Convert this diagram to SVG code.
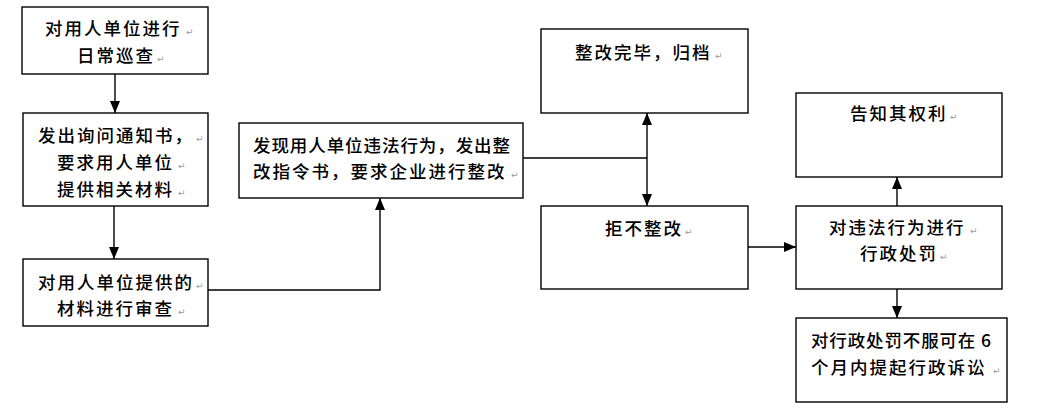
<svg xmlns="http://www.w3.org/2000/svg" width="1046" height="417" viewBox="0 0 1046 417">
<style>
.box{fill:#fff;stroke:#000;stroke-width:1.4}
.t{font-family:"Noto Sans CJK SC","Noto Sans CJK JP",sans-serif;font-size:17.5px;letter-spacing:2px;font-weight:500;fill:#000}
.pm{font-family:"DejaVu Sans",sans-serif;font-size:9px;fill:#9a9a9a}
.c{fill:none;stroke:#000;stroke-width:1.4}
</style>
<defs>
<marker id="ah" viewBox="0 0 12 10" refX="12" refY="5" markerWidth="12" markerHeight="10" markerUnits="userSpaceOnUse" orient="auto-start-reverse">
<path d="M0,0 L12,5 L0,10 Z" fill="#000"/>
</marker>
</defs>
<rect width="1046" height="417" fill="#fff"/>
<g id="connectors">
<line class="c" x1="115" y1="74" x2="115" y2="113" marker-end="url(#ah)"/>
<line class="c" x1="114" y1="206" x2="114" y2="259" marker-end="url(#ah)"/>
<polyline class="c" points="208,290 380,290 380,198" marker-end="url(#ah)"/>
<polyline class="c" points="523,158 647,158"/>
<line class="c" x1="647" y1="158" x2="647" y2="113" marker-end="url(#ah)"/>
<line class="c" x1="647" y1="158" x2="647" y2="206" marker-end="url(#ah)"/>
<line class="c" x1="748" y1="247" x2="796" y2="247" marker-end="url(#ah)"/>
<line class="c" x1="897" y1="206" x2="897" y2="177" marker-end="url(#ah)"/>
<line class="c" x1="897" y1="289" x2="897" y2="318" marker-end="url(#ah)"/>
</g>
<g id="n1">
<rect class="box" x="22" y="7" width="186" height="67"/>
<text class="t" x="45" y="35">对用人单位进行</text><text class="pm" x="186" y="35">↵</text>
<text class="t" x="77" y="62">日常巡查</text><text class="pm" x="157" y="62">↵</text>
</g>
<g id="n2">
<rect class="box" x="23" y="113" width="185" height="93"/>
<text class="t" x="38" y="142">发出询问通知书，</text><text class="pm" x="196" y="142">↵</text>
<text class="t" x="57" y="169">要求用人单位</text><text class="pm" x="178" y="169">↵</text>
<text class="t" x="57" y="196">提供相关材料</text><text class="pm" x="178" y="196">↵</text>
</g>
<g id="n3">
<rect class="box" x="23" y="259" width="185" height="67"/>
<text class="t" x="38" y="289">对用人单位提供的</text><text class="pm" x="196" y="289">↵</text>
<text class="t" x="57" y="315">材料进行审查</text><text class="pm" x="178" y="315">↵</text>
</g>
<g id="n4">
<rect class="box" x="239" y="123" width="284" height="75"/>
<text class="t" x="253" y="152" textLength="259" lengthAdjust="spacing">发现用人单位违法行为，发出整</text>
<text class="t" x="253" y="178">改指令书，要求企业进行整改</text><text class="pm" x="511" y="178">↵</text>
</g>
<g id="n5">
<rect class="box" x="541" y="29" width="207" height="84"/>
<text class="t" x="575" y="59">整改完毕，归档</text><text class="pm" x="715" y="59">↵</text>
</g>
<g id="n6">
<rect class="box" x="541" y="206" width="207" height="83"/>
<text class="t" x="605" y="235">拒不整改</text><text class="pm" x="685" y="235">↵</text>
</g>
<g id="n7">
<rect class="box" x="796" y="93" width="206" height="84"/>
<text class="t" x="850" y="120">告知其权利</text><text class="pm" x="950" y="120">↵</text>
</g>
<g id="n8">
<rect class="box" x="796" y="206" width="206" height="83"/>
<text class="t" x="829" y="234">对违法行为进行</text><text class="pm" x="970" y="234">↵</text>
<text class="t" x="860" y="260">行政处罚</text><text class="pm" x="940" y="260">↵</text>
</g>
<g id="n9">
<rect class="box" x="796" y="318" width="211" height="84"/>
<text class="t" x="811" y="347" textLength="182" lengthAdjust="spacing">对行政处罚不服可在 6</text>
<text class="t" x="811" y="374">个月内提起行政诉讼</text><text class="pm" x="993" y="374">↵</text>
</g>
</svg>
